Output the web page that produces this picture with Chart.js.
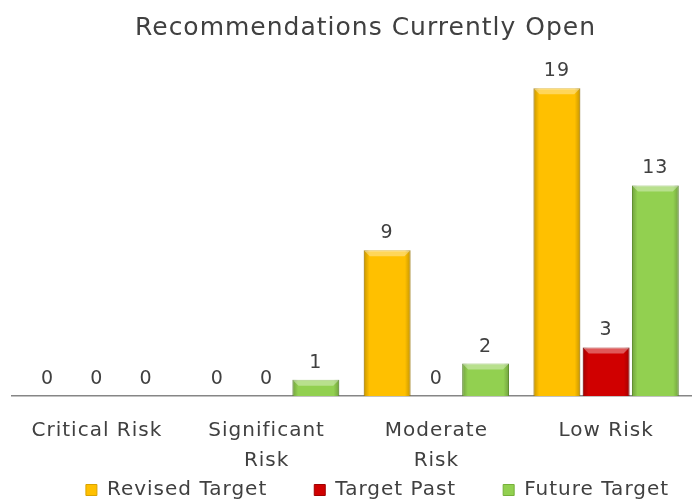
<!DOCTYPE html>
<html>
<head>
<meta charset="utf-8">
<script src="https://cdn.jsdelivr.net/npm/chart.js@4"></script>
<style>
  body { margin: 0; background: #fff; }
  #wrap { width: 695px; height: 504px; }
</style>
</head>
<body>
<div id="wrap"><canvas id="openChart"></canvas></div>
<script>
const categories = [['Critical Risk'], ['Significant', 'Risk'], ['Moderate', 'Risk'], ['Low Risk']];
const revisedTarget = [0, 0, 9, 19];
const targetPast = [0, 0, 0, 3];
const futureTarget = [0, 1, 2, 13];

const textColor = '#404040';
const fontFamily = '"DejaVu Sans", sans-serif';

// slightly wider lettering for all canvas text
const spacing = {
    id: 'spacing',
    beforeLayout(chart) { chart.ctx.letterSpacing = '1px'; },
    beforeDraw(chart) { chart.ctx.letterSpacing = '1px'; }
};

// the x axis is squeezed during fit so the legend can tuck under it;
// give the labels their full height back and nudge title/legend right
const placement = {
    id: 'placement',
    afterLayout(chart) {
        const x = chart.scales.x;
        x.bottom = x.top + 90;
        x.height = 90;
        chart.legend.left += 26;
        chart.legend.right += 26;
        chart.titleBlock.left += 14;
        chart.titleBlock.right += 14;
    }
};

// bevel shading + value labels on top of each bar
const barDecor = {
    id: 'barDecor',
    afterDatasetsDraw(chart) {
        const ctx = chart.ctx;
        chart.data.datasets.forEach((ds, di) => {
            const meta = chart.getDatasetMeta(di);
            meta.data.forEach((bar, i) => {
                const left = bar.x - bar.width / 2;
                const right = bar.x + bar.width / 2;
                const top = bar.y;
                const h = bar.base - bar.y;
                if (h > 0.5) {
                    ctx.save();
                    const g = ctx.createLinearGradient(left, 0, right, 0);
                    g.addColorStop(0, 'rgba(0,0,0,0.22)');
                    g.addColorStop(0.12, 'rgba(0,0,0,0)');
                    g.addColorStop(0.88, 'rgba(0,0,0,0)');
                    g.addColorStop(1, 'rgba(0,0,0,0.22)');
                    ctx.fillStyle = g;
                    ctx.fillRect(left, top, bar.width, h);
                    const b = Math.min(6, h / 2);
                    ctx.fillStyle = 'rgba(255,255,255,0.35)';
                    ctx.beginPath();
                    ctx.moveTo(left, top);
                    ctx.lineTo(right, top);
                    ctx.lineTo(right - b, top + b);
                    ctx.lineTo(left + b, top + b);
                    ctx.closePath();
                    ctx.fill();
                    ctx.restore();
                }
                ctx.save();
                ctx.fillStyle = textColor;
                ctx.font = '19px ' + fontFamily;
                ctx.textAlign = 'center';
                ctx.textBaseline = 'middle';
                ctx.fillText(String(ds.data[i]), bar.x, bar.y - 17);
                ctx.restore();
            });
        });
    }
};

const config = {
    type: 'bar',
    data: {
        labels: categories,
        datasets: [{
            label: 'Revised Target',
            data: revisedTarget,
            backgroundColor: '#FFC000',
            borderColor: '#D9A300',
            borderWidth: 1
        }, {
            label: 'Target Past',
            data: targetPast,
            backgroundColor: '#D00000',
            borderColor: '#A00000',
            borderWidth: 1
        }, {
            label: 'Future Target',
            data: futureTarget,
            backgroundColor: '#92D050',
            borderColor: '#76B03A',
            borderWidth: 1
        }]
    },
    options: {
        responsive: true,
        maintainAspectRatio: false,
        animation: false,
        categoryPercentage: 0.87,
        barPercentage: 0.95,
        layout: { padding: { left: 12, right: 4, bottom: -6 } },
        scales: {
            x: {
                grid: { display: false },
                border: { color: '#868686', width: 1.5 },
                ticks: {
                    color: textColor,
                    font: { family: fontFamily, size: 20, lineHeight: 1.5 },
                    padding: 12,
                    maxRotation: 0
                },
                afterFit(scale) { scale.height = 37; }
            },
            y: {
                display: false,
                min: 0,
                max: 20
            }
        },
        plugins: {
            title: {
                display: true,
                text: 'Recommendations Currently Open',
                color: textColor,
                font: { family: fontFamily, size: 25, weight: 'normal' },
                padding: { top: 13, bottom: 29 }
            },
            legend: {
                position: 'bottom',
                labels: {
                    color: textColor,
                    font: { family: fontFamily, size: 20 },
                    boxWidth: 11,
                    boxHeight: 11,
                    padding: 47
                }
            },
            tooltip: { enabled: false }
        }
    },
    plugins: [spacing, placement, barDecor]
};

const openChart = new Chart(document.getElementById('openChart'), config);
</script>
</body>
</html>
